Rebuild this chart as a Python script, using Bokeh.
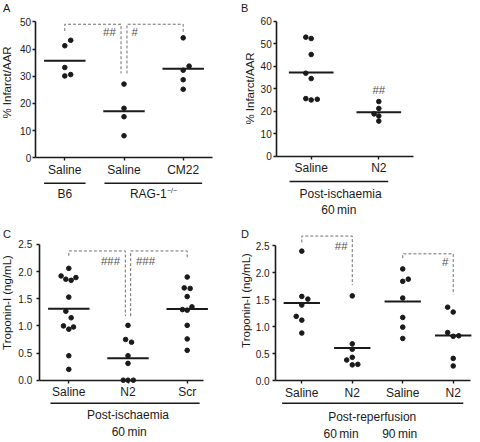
import numpy as np
from bokeh.plotting import figure
from bokeh.layouts import column, row
from bokeh.models import FixedTicker
from bokeh.core.properties import value
from bokeh.embed import file_html
from bokeh.resources import INLINE

FONT = "Liberation Sans"
INK = "#1a1a1a"
GREY = "#707070"
SIGC = "#555555"

# ---------------- data ----------------
# Panel A
a_categories = ["Saline", "Saline", "CM22"]
a_values = [
    [43.2, 41.2, 33.2, 30.1, 30.6],
    [27.1, 18.2, 15.1, 8.1],
    [44.1, 33.7, 32.2, 28.7, 25.2],
]
a_jitter = [[0.10, 0, 0, 0, 0.10], [0, 0, 0, 0], [0, 0.10, 0, 0, 0]]
a_yticks = [0, 10, 20, 30, 40, 50]
a_ytick_labels = ["0", "10", "20", "30", "40", "50"]
a_ytitle = "% Infarct/AAR"
a_groups = ["B6", "RAG-1"]
a_group_sup = "\u2212/\u2212"
a_sig = ["##", "#"]

# Panel B
b_categories = ["Saline", "N2"]
b_values = [
    [52.9, 52.3, 45.2, 36.9, 34.5, 25.6, 25.0, 25.3],
    [24.3, 21.2, 18.8, 17.9, 15.6],
]
b_jitter = [[-0.08, 0, 0, -0.08, 0, -0.08, 0, 0.09], [0, 0, -0.07, 0, 0]]
b_yticks = [0, 10, 20, 30, 40, 50, 60]
b_ytick_labels = ["0", "10", "20", "30", "40", "50", "60"]
b_ytitle = "% Infarct/AAR"
b_group = ["Post-ischaemia", "60\u2009min"]
b_sig = ["##"]

# Panel C
c_categories = ["Saline", "N2", "Scr"]
c_values = [
    [2.06, 1.92, 1.86, 1.84, 1.89, 1.53, 1.27, 1.15, 1.00, 0.94, 0.98, 0.45, 0.20],
    [1.01, 0.75, 0.70, 0.45, 0.31, 0.0, 0.0, 0.0],
    [1.90, 1.70, 1.69, 1.54, 1.35, 1.30, 1.29, 1.01, 0.76, 0.55],
]
c_jitter = [
    [0, -0.13, -0.05, 0.04, 0.12, 0, -0.05, 0.04, -0.09, 0, 0.08, 0, 0],
    [0, -0.04, 0.06, 0, 0, -0.08, 0, 0.09],
    [0, -0.05, 0.05, 0, 0.08, -0.08, 0, 0, 0, 0],
]
c_yticks = [0, 0.5, 1.0, 1.5, 2.0, 2.5]
c_ytick_labels = ["0.0", "0.5", "1.0", "1.5", "2.0", "2.5"]
c_ytitle = "Troponin-I (ng/mL)"
c_group = ["Post-ischaemia", "60\u2009min"]
c_sig = ["###", "###"]

# Panel D
d_categories = ["Saline", "N2", "Saline", "N2"]
d_values = [
    [2.40, 1.56, 1.51, 1.40, 1.19, 1.12, 0.88],
    [1.57, 0.68, 0.58, 0.43, 0.38, 0.29, 0.30],
    [2.07, 1.84, 1.88, 1.53, 1.17, 0.99, 0.78],
    [1.36, 1.27, 0.89, 0.82, 0.83, 0.41, 0.27],
]
d_jitter = [
    [0, 0, 0.12, 0, -0.11, 0, 0],
    [0, 0, 0, 0, -0.11, 0, 0.11],
    [0, 0, 0.11, 0, 0, 0, 0],
    [-0.11, 0, -0.11, 0, 0.11, 0, 0],
]
d_yticks = [0, 0.5, 1.0, 1.5, 2.0, 2.5]
d_ytick_labels = ["0.0", "0.5", "1.0", "1.5", "2.0", "2.5"]
d_ytitle = "Troponin-I (ng/mL)"
d_group = ["Post-reperfusion", "60\u2009min", "90\u2009min"]
d_sig = ["##", "#"]


def txt(p, x, y, s, size, align="center", baseline="middle", color=INK, angle=0.0):
    p.text(x=[x], y=[y], text=[s], angle=angle, text_font=value(FONT),
           text_font_size=value(size), text_align=align, text_baseline=baseline,
           text_color=color)


def panel(box, geom, xbounds, ytop, yticks, ytick_labels, cats, values, jitter,
          half_width, label_standoff, letter, letter_px, ytitle, ytitle_px):
    left, top, w, h = box
    cat1, step, zero, unit = geom
    px2x = lambda px: 1 + (px - cat1) / step
    px2y = lambda py: (zero - py) / unit
    p = figure(width=w, height=h,
               x_range=(px2x(left), px2x(left + w)),
               y_range=(px2y(top + h), px2y(top)),
               toolbar_location=None, output_backend="svg", min_border=0,
               outline_line_color=None, background_fill_color="white",
               border_fill_color="white")
    p.grid.visible = False
    n = len(cats)
    xa = p.xaxis[0]
    ya = p.yaxis[0]
    xa.fixed_location = 0
    xa.bounds = xbounds
    xa.ticker = FixedTicker(ticks=list(range(1, n + 1)))
    xa.major_label_overrides = {i + 1: c for i, c in enumerate(cats)}
    ya.fixed_location = xbounds[0]
    ya.bounds = (0, ytop)
    ya.ticker = FixedTicker(ticks=yticks)
    ya.major_label_overrides = {t: l for t, l in zip(yticks, ytick_labels)}
    for ax in (xa, ya):
        ax.axis_line_width = 1.6
        ax.axis_line_color = INK
        ax.major_tick_line_width = 1.4
        ax.major_tick_line_color = INK
        ax.major_tick_in = 0
        ax.major_tick_out = 3
        ax.minor_tick_line_color = None
        ax.major_label_text_font = FONT
        ax.major_label_text_color = INK
    xa.major_label_text_font_size = "12px"
    xa.major_label_standoff = 2
    ya.major_label_text_font_size = "10px"
    ya.major_label_standoff = label_standoff

    xs, ys = [], []
    for i, (vals, jit) in enumerate(zip(values, jitter)):
        xs += [i + 1 + j for j in jit]
        ys += vals
    p.scatter(xs, ys, size=4.6, color=INK)
    means = [float(np.mean(v)) for v in values]
    cx = np.arange(1, n + 1)
    p.segment(x0=cx - half_width, x1=cx + half_width, y0=means, y1=means,
              line_width=2, line_color=INK)

    txt(p, px2x(letter_px[0]), px2y(letter_px[1]), letter, "11px", align="left", baseline="top")
    txt(p, px2x(ytitle_px[0]), px2y(ytitle_px[1]), ytitle, "11.5px",
        align="center", baseline="top", angle=np.pi / 2)
    return p, px2y


def brackets(p, spec):
    xs, ys = [], []
    for x1, x2, yt, yl, yr in spec:
        xs.append([x1, x1, x2, x2])
        ys.append([yl, yt, yt, yr])
    p.multi_line(xs, ys, line_color=GREY, line_width=1, line_dash="3 2")


# ---------------- Panel A ----------------
pA, yA = panel((0, 0, 240, 221), (64.3, 59.2, 157.3, 2.72), (0.5, 3.5), 50,
               a_yticks, a_ytick_labels, a_categories, a_values, a_jitter, 0.35, 1,
               "A", (2.5, 1), a_ytitle, (0.5, 82))
brackets(pA, [(1, 1.95, 49.1, 46.6, 31.0), (2.05, 3, 49.1, 31.0, 46.3)])
txt(pA, 1.755, 46.1, a_sig[0], "11.5px", color=SIGC)
txt(pA, 2.18, 46.1, a_sig[1], "11.5px", color=SIGC)
pA.segment(x0=[0.65, 1.67], x1=[1.35, 3.32], y0=[yA(182.7)] * 2, y1=[yA(182.7)] * 2,
           line_width=1.6, line_color=INK)
txt(pA, 1, yA(193.5), a_groups[0], "12px")
txt(pA, 2.72, yA(193.5), a_groups[1], "12px", align="right")
txt(pA, 2.725, yA(189.5), a_group_sup, "7px", align="left")

# ---------------- Panel B ----------------
pB, yB = panel((240, 0, 240, 221), (310.7, 67.6, 155.7, 2.25), (0.49, 2.51), 60,
               b_yticks, b_ytick_labels, b_categories, b_values, b_jitter, 0.33, 2,
               "B", (240.5, 1), b_ytitle, (243, 88))
txt(pB, 2, 29.5, b_sig[0], "11.5px", color=SIGC)
pB.segment(x0=[0.68], x1=[2.14], y0=[yB(181)], y1=[yB(181)], line_width=1.6, line_color=INK)
txt(pB, 1.434, yB(193), b_group[0], "12px")
txt(pB, 1.41, yB(209), b_group[1], "12px")

# ---------------- Panel C ----------------
pC, yC = panel((0, 221, 240, 221), (68.3, 59.2, 379.7, 54.3), (0.5, 3.28), 2.5,
               c_yticks, c_ytick_labels, c_categories, c_values, c_jitter, 0.35, 4,
               "C", (2.5, 227), c_ytitle, (0.5, 302))
brackets(pC, [(1, 1.955, 2.38, 2.29, 1.18), (2.045, 3, 2.38, 1.18, 2.24)])
txt(pC, 1.704, 2.20, c_sig[0], "11.5px", color=SIGC)
txt(pC, 2.296, 2.20, c_sig[1], "11.5px", color=SIGC)
pC.segment(x0=[0.69], x1=[3.21], y0=[yC(402.7)], y1=[yC(402.7)], line_width=1.6, line_color=INK)
txt(pC, 2.0, yC(414), c_group[0], "12px")
txt(pC, 2.02, yC(431.5), c_group[1], "12px")

# ---------------- Panel D ----------------
pD, yD = panel((240, 221, 240, 221), (301.3, 50.47, 380, 53.9), (0.48, 4.34), 2.5,
               d_yticks, d_ytick_labels, d_categories, d_values, d_jitter, 0.36, 3,
               "D", (240.5, 227), d_ytitle, (239.5, 300))
brackets(pD, [(1, 2, 2.68, 2.56, 1.77), (3, 4, 2.35, 2.27, 1.60)])
txt(pD, 1.78, 2.50, d_sig[0], "11.5px", color=SIGC)
txt(pD, 3.84, 2.19, d_sig[1], "11.5px", color=SIGC)
pD.segment(x0=[0.61], x1=[4.20], y0=[yD(402.7)], y1=[yD(402.7)], line_width=1.6, line_color=INK)
txt(pD, 2.395, yD(416.5), d_group[0], "12px")
txt(pD, 1.78, yD(433), d_group[1], "12px")
txt(pD, 2.94, yD(433), d_group[2], "12px")

layout = column(row(pA, pB), row(pC, pD))
open("out.html", "w").write(file_html(layout, INLINE, "Infarct and troponin"))
